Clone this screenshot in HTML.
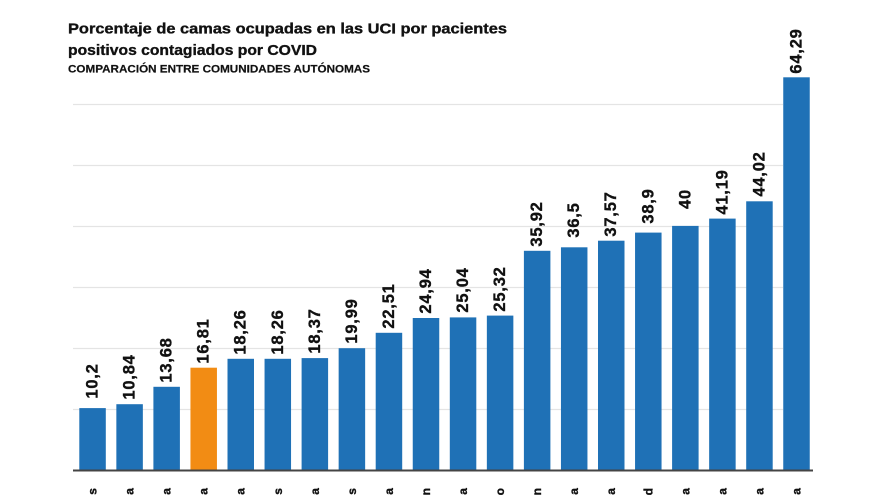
<!DOCTYPE html>
<html>
<head>
<meta charset="utf-8">
<style>
html,body{margin:0;padding:0;background:#fff;width:880px;height:495px;overflow:hidden;}
svg{display:block;overflow:hidden;}
text{font-family:"Liberation Sans",sans-serif;font-weight:bold;fill:#111;}
.hv{stroke:#111;stroke-width:0.35;}
</style>
</head>
<body>
<svg width="880" height="495" viewBox="0 0 880 495" xmlns="http://www.w3.org/2000/svg">
<rect width="880" height="495" fill="#fff"/>
<!-- titles -->
<g class="hv">
<text x="68" y="33.5" font-size="14.5" textLength="439" lengthAdjust="spacingAndGlyphs">Porcentaje de camas ocupadas en las UCI por pacientes</text>
<text x="68" y="55" font-size="14.5" textLength="249" lengthAdjust="spacingAndGlyphs">positivos contagiados por COVID</text>
</g>
<text x="68" y="72.5" font-size="11" textLength="302" lengthAdjust="spacingAndGlyphs" class="hv" style="stroke-width:0.2">COMPARACIÓN ENTRE COMUNIDADES AUTÓNOMAS</text>

<!-- gridlines -->
<g stroke="#e4e4e4" stroke-width="1.2">
<line x1="73" y1="104.5" x2="783" y2="104.5"/>
<line x1="73" y1="165.5" x2="783" y2="165.5"/>
<line x1="73" y1="226.5" x2="783" y2="226.5"/>
<line x1="73" y1="287.5" x2="783" y2="287.5"/>
<line x1="73" y1="348.5" x2="783" y2="348.5"/>
<line x1="73" y1="409.5" x2="783" y2="409.5"/>
</g>

<!-- bars -->
<g fill="#1f71b6">
<rect x="79.3" y="408.1" width="26.5" height="62.4"/>
<rect x="116.35" y="404.2" width="26.5" height="66.3"/>
<rect x="153.4" y="386.8" width="26.5" height="83.7"/>
<rect x="190.45" y="367.7" width="26.5" height="102.8" fill="#f28c14"/>
<rect x="227.5" y="358.8" width="26.5" height="111.7"/>
<rect x="264.55" y="358.8" width="26.5" height="111.7"/>
<rect x="301.6" y="358.1" width="26.5" height="112.4"/>
<rect x="338.65" y="348.2" width="26.5" height="122.3"/>
<rect x="375.7" y="332.8" width="26.5" height="137.7"/>
<rect x="412.75" y="318.0" width="26.5" height="152.5"/>
<rect x="449.8" y="317.4" width="26.5" height="153.1"/>
<rect x="486.85" y="315.6" width="26.5" height="154.9"/>
<rect x="523.9" y="250.8" width="26.5" height="219.7"/>
<rect x="560.95" y="247.3" width="26.5" height="223.2"/>
<rect x="598.0" y="240.7" width="26.5" height="229.8"/>
<rect x="635.05" y="232.6" width="26.5" height="237.9"/>
<rect x="672.1" y="225.9" width="26.5" height="244.6"/>
<rect x="709.15" y="218.6" width="26.5" height="251.9"/>
<rect x="746.2" y="201.3" width="26.5" height="269.2"/>
<rect x="783.25" y="77.3" width="26.5" height="393.2"/>
</g>

<!-- axis -->
<line x1="73" y1="470.5" x2="813" y2="470.5" stroke="#444" stroke-width="2"/>

<!-- value labels -->
<g font-size="16.5" text-anchor="middle" letter-spacing="0.8" class="hv">
<text transform="translate(97.5,381) rotate(-90)">10,2</text>
<text transform="translate(134.6,377) rotate(-90)">10,84</text>
<text transform="translate(171.6,360) rotate(-90)">13,68</text>
<text transform="translate(208.7,341) rotate(-90)">16,81</text>
<text transform="translate(245.7,332) rotate(-90)">18,26</text>
<text transform="translate(282.8,332) rotate(-90)">18,26</text>
<text transform="translate(319.8,331) rotate(-90)">18,37</text>
<text transform="translate(356.9,321) rotate(-90)">19,99</text>
<text transform="translate(393.9,306) rotate(-90)">22,51</text>
<text transform="translate(431.0,291) rotate(-90)">24,94</text>
<text transform="translate(468.0,290) rotate(-90)">25,04</text>
<text transform="translate(505.1,289) rotate(-90)">25,32</text>
<text transform="translate(542.1,224) rotate(-90)">35,92</text>
<text transform="translate(579.2,220) rotate(-90)">36,5</text>
<text transform="translate(616.2,214) rotate(-90)">37,57</text>
<text transform="translate(653.3,206) rotate(-90)">38,9</text>
<text transform="translate(690.3,199) rotate(-90)">40</text>
<text transform="translate(727.4,192) rotate(-90)">41,19</text>
<text transform="translate(764.4,174) rotate(-90)">44,02</text>
<text transform="translate(801.5,51) rotate(-90)">64,29</text>
</g>

<!-- category label fragments (only tops visible in reference) -->
<g font-size="12" text-anchor="end" class="hv">
<text transform="translate(96.5,488) rotate(-90)">s</text>
<text transform="translate(133.6,488) rotate(-90)">a</text>
<text transform="translate(170.6,488) rotate(-90)">a</text>
<text transform="translate(207.7,488) rotate(-90)">a</text>
<text transform="translate(244.7,488) rotate(-90)">a</text>
<text transform="translate(281.8,488) rotate(-90)">s</text>
<text transform="translate(318.8,488) rotate(-90)">a</text>
<text transform="translate(355.9,488) rotate(-90)">s</text>
<text transform="translate(392.9,488) rotate(-90)">a</text>
<text transform="translate(430.0,488) rotate(-90)">n</text>
<text transform="translate(467.0,488) rotate(-90)">a</text>
<text transform="translate(504.1,488) rotate(-90)">o</text>
<text transform="translate(541.1,488) rotate(-90)">n</text>
<text transform="translate(578.2,488) rotate(-90)">a</text>
<text transform="translate(615.2,488) rotate(-90)">a</text>
<text transform="translate(652.3,488) rotate(-90)">d</text>
<text transform="translate(689.3,488) rotate(-90)">a</text>
<text transform="translate(726.4,488) rotate(-90)">a</text>
<text transform="translate(763.4,488) rotate(-90)">a</text>
<text transform="translate(800.5,488) rotate(-90)">a</text>
</g>
</svg>
</body>
</html>
